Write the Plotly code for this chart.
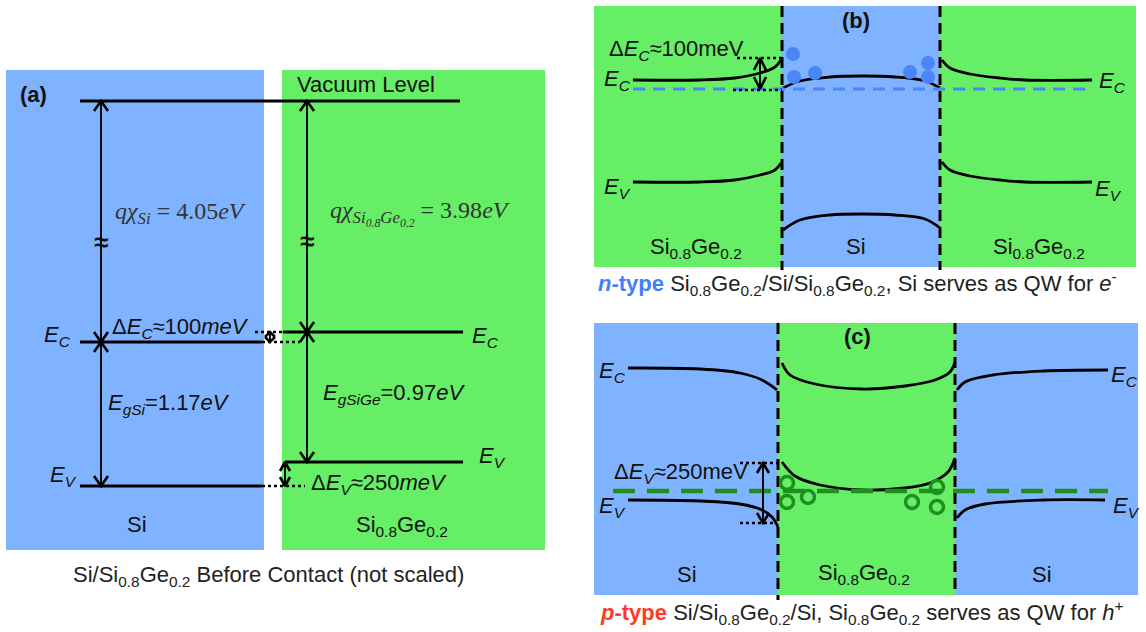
import plotly.graph_objects as go

W, H = 1146, 632
SANS = "Liberation Sans, Arial, sans-serif"
SERIF = "Liberation Serif, Times New Roman, serif"
BLUE = "#80b3ff"
GREEN = "#66ee66"
E_BLUE = "#4a86f7"
H_GREEN = "#1f8f1f"

# ---------------- data (schematic values) ----------------
# material regions
region_x0 = [6, 282, 594, 781, 940, 594, 778, 955]
region_x1 = [264, 545, 781, 940, 1136, 778, 955, 1138]
region_y0 = [70, 70, 6, 6, 6, 323, 323, 323]
region_y1 = [550, 550, 267, 267, 267, 595, 595, 595]
region_mat = ["Si", "SiGe", "SiGe", "Si", "SiGe", "Si", "SiGe", "Si"]

# panel (a): flat band levels before contact
a_level_name = ["Vacuum", "Ec_Si", "Ev_Si", "Ec_SiGe", "Ev_SiGe"]
a_level_y = [101, 342, 486, 332, 462]
a_level_x0 = [80, 80, 80, 283, 285]
a_level_x1 = [460, 262, 262, 463, 463]

# panel (a): dotted guide lines (offsets)
a_dot_y = [332, 342, 486]
a_dot_x0 = [255, 262, 262]
a_dot_x1 = [283, 300, 305]

# panel (a): vertical energy arrows  (x, y_top, y_bottom)
a_arrow_x = [101, 101, 307, 307]
a_arrow_top = [101, 342, 101, 332]
a_arrow_bot = [342, 486, 332, 462]
a_small_arrow_x = [270, 285]
a_small_arrow_top = [332, 462]
a_small_arrow_bot = [342, 486]

# panel (b): n-type Si0.8Ge0.2/Si/Si0.8Ge0.2 band curves
b_ec_left_x = [633, 700, 735, 760, 775, 781]
b_ec_left_y = [80, 80, 78, 73, 67, 60]
b_ec_mid_x = [783, 800, 830, 862, 895, 925, 940]
b_ec_mid_y = [88, 81, 77, 76, 77, 81, 88]
b_ec_right_x = [942, 950, 970, 1000, 1025, 1092]
b_ec_right_y = [60, 68, 74, 78, 80, 80]
b_ev_left_x = [633, 700, 735, 760, 775, 781]
b_ev_left_y = [182, 182, 180, 175, 170, 163]
b_ev_mid_x = [783, 800, 830, 862, 895, 925, 940]
b_ev_mid_y = [230, 220, 215, 214, 215, 219, 228]
b_ev_right_x = [942, 950, 970, 1000, 1025, 1092]
b_ev_right_y = [162, 170, 176, 180, 182, 182]
b_fermi_y = 89
b_fermi_x = [633, 1092]
b_interfaces = [782, 940]
b_electron_x = [793, 794, 815, 910, 928, 928]
b_electron_y = [54, 77, 73, 72, 63, 77]
b_dot_y = [58, 90]
b_dot_x0 = [737, 733]
b_dot_x1 = [782, 782]
b_arrow_x = 760
b_arrow_top, b_arrow_bot = 58, 89

# panel (c): p-type Si/Si0.8Ge0.2/Si band curves
c_ec_left_x = [628, 700, 740, 762, 777]
c_ec_left_y = [368, 369, 373, 380, 390]
c_ec_mid_x = [782, 790, 815, 862, 905, 935, 950, 955]
c_ec_mid_y = [363, 375, 384, 389, 386, 380, 372, 362]
c_ec_right_x = [957, 965, 993, 1043, 1108]
c_ec_right_y = [390, 382, 375, 371, 370]
c_ev_left_x = [628, 700, 740, 762, 772, 778]
c_ev_left_y = [500, 501, 504, 510, 517, 527]
c_ev_mid_x = [782, 795, 820, 862, 905, 930, 948, 955]
c_ev_mid_y = [462, 476, 485, 490, 488, 483, 472, 458]
c_ev_right_x = [957, 965, 985, 1043, 1105]
c_ev_right_y = [518, 510, 504, 500, 500]
c_fermi_y = 491
c_fermi_x = [613, 1108]
c_interfaces = [778, 955]
c_hole_x = [787, 787, 808, 912, 937, 937]
c_hole_y = [483, 502, 497, 502, 487, 507]
c_dot_y = [463, 523]
c_dot_x0 = [740, 740]
c_dot_x1 = [780, 776]
c_arrow_x = 763
c_arrow_top, c_arrow_bot = 463, 523

# ---------------- figure ----------------
fig = go.Figure()

mat_color = {"Si": BLUE, "SiGe": GREEN}
shapes = []
for x0, x1, y0, y1, m in zip(region_x0, region_x1, region_y0, region_y1, region_mat):
    shapes.append(dict(type="rect", xref="x", yref="y", x0=x0, x1=x1, y0=y0, y1=y1,
                       fillcolor=mat_color[m], line=dict(width=0), layer="below"))


def line(xs, ys, width=2.6, color="black", dash=None, shape="linear"):
    fig.add_trace(go.Scatter(x=xs, y=ys, mode="lines", hoverinfo="skip", showlegend=False,
                             line=dict(color=color, width=width, dash=dash, shape=shape)))


def chevron(x, y, up, w=6, h=9):
    d = h if up else -h
    return [x - w, x, x + w, None], [y + d, y, y + d, None]


def double_arrow(x, top, bot, w=6, h=9, width=1.9):
    line([x, x], [top, bot], width=width)
    cx, cy = [], []
    for yy, up in ((top, True), (bot, False)):
        a, b = chevron(x, yy, up, w, h)
        cx += a
        cy += b
    line(cx, cy, width=2.6)


# panel (a)
for y, x0, x1 in zip(a_level_y, a_level_x0, a_level_x1):
    line([x0, x1], [y, y], width=3)
for y, x0, x1 in zip(a_dot_y, a_dot_x0, a_dot_x1):
    line([x0, x1], [y, y], width=2.6, dash="dot")
for x, t, b in zip(a_arrow_x, a_arrow_top, a_arrow_bot):
    double_arrow(x, t, b, w=7, h=10)
for x, t, b in zip(a_small_arrow_x, a_small_arrow_top, a_small_arrow_bot):
    double_arrow(x, t, b, w=5, h=min(9, (b - t) * 0.5))

# panel (b)
for xs, ys in [(b_ec_left_x, b_ec_left_y), (b_ec_mid_x, b_ec_mid_y), (b_ec_right_x, b_ec_right_y),
               (b_ev_left_x, b_ev_left_y), (b_ev_mid_x, b_ev_mid_y), (b_ev_right_x, b_ev_right_y)]:
    line(xs, ys, width=2.8, shape="spline")
line(b_fermi_x, [b_fermi_y, b_fermi_y], width=3, color=E_BLUE, dash="12px,8px")
for xi in b_interfaces:
    line([xi, xi], [region_y0[3], region_y1[3] + 3], width=3, dash="11px,6px")
for y, x0, x1 in zip(b_dot_y, b_dot_x0, b_dot_x1):
    line([x0, x1], [y, y], width=2.6, dash="dot")
double_arrow(b_arrow_x, b_arrow_top, b_arrow_bot, w=6, h=12)
fig.add_trace(go.Scatter(x=b_electron_x, y=b_electron_y, mode="markers", hoverinfo="skip",
                         showlegend=False, marker=dict(size=14, color=E_BLUE, line=dict(width=0))))

# panel (c)
for xs, ys in [(c_ec_left_x, c_ec_left_y), (c_ec_mid_x, c_ec_mid_y), (c_ec_right_x, c_ec_right_y),
               (c_ev_left_x, c_ev_left_y), (c_ev_mid_x, c_ev_mid_y), (c_ev_right_x, c_ev_right_y)]:
    line(xs, ys, width=2.8, shape="spline")
line(c_fermi_x, [c_fermi_y, c_fermi_y], width=4.5, color=H_GREEN, dash="22px,12px")
for xi in c_interfaces:
    line([xi, xi], [region_y0[5], region_y1[5] + (5 if xi == c_interfaces[0] else 0)],
         width=3, dash="11px,6px")
for y, x0, x1 in zip(c_dot_y, c_dot_x0, c_dot_x1):
    line([x0, x1], [y, y], width=2.6, dash="dot")
double_arrow(c_arrow_x, c_arrow_top, c_arrow_bot, w=6, h=10)
fig.add_trace(go.Scatter(x=c_hole_x, y=c_hole_y, mode="markers", hoverinfo="skip", showlegend=False,
                         marker=dict(size=13, color="rgba(0,0,0,0)", line=dict(width=3.5, color=H_GREEN))))

# ---------------- text ----------------
ann = []


def txt(x, y, text, size=22, xa="center", ya="middle", family=SANS, color="#111"):
    ann.append(dict(x=x, y=y, xref="x", yref="y", text=text, showarrow=False, xanchor=xa,
                    yanchor=ya, font=dict(size=size, family=family, color=color)))


EC = "<i>E</i><sub><i>C</i></sub>"
EV = "<i>E</i><sub><i>V</i></sub>"
SIGE = "Si<sub>0.8</sub>Ge<sub>0.2</sub>"

# (a)
txt(18, 94, "<b>(a)</b>", xa="left")
txt(295, 84, "Vacuum Level", xa="left")
txt(113, 213, "<i>q</i><i>χ</i><sub><i>Si</i></sub> = 4.05<i>eV</i>", xa="left", size=24,
    family=SERIF, color="#333")
txt(328, 213, "<i>q</i><i>χ</i><sub><i>Si<sub>0.8</sub>Ge<sub>0.2</sub></i></sub> = 3.98<i>eV</i>",
    xa="left", size=24, family=SERIF, color="#333")
txt(101, 242, "<b>≈</b>", size=26)
txt(307, 241, "<b>≈</b>", size=26)
txt(110, 328, "Δ" + EC + "≈100<i>meV</i>", xa="left")
txt(73, 336, EC, xa="right")
txt(79, 476, EV, xa="right")
txt(106, 404, "<i>E</i><sub><i>gSi</i></sub>=1.17<i>eV</i>", xa="left")
txt(321, 394, "<i>E</i><sub><i>gSiGe</i></sub>=0.97<i>eV</i>", xa="left")
txt(470, 337, EC, xa="left")
txt(477, 457, EV, xa="left")
txt(309, 484, "Δ" + EV + "≈250<i>meV</i>", xa="left")
txt(137, 524, "Si")
txt(402, 526, SIGE)
txt(268, 576, "Si/" + SIGE + " Before Contact (not scaled)", color="#222")

# (b)
txt(856, 20, "<b>(b)</b>")
txt(607, 50, "Δ" + EC + "≈100meV", xa="left")
txt(633, 80, EC, xa="right")
txt(633, 188, EV, xa="right")
txt(1097, 82, EC, xa="left")
txt(1093, 190, EV, xa="left")
txt(696, 248, SIGE)
txt(856, 246, "Si")
txt(1039, 248, SIGE)
txt(857, 283, "<b><span style='color:#3f7fff'><i>n</i>-type</span></b> " + SIGE + "/Si/" + SIGE
    + ", Si serves as QW for <i>e</i><sup>-</sup>", color="#222")

# (c)
txt(857, 336, "<b>(c)</b>")
txt(628, 372, EC, xa="right")
txt(628, 507, EV, xa="right")
txt(612, 473, "Δ" + EV + "≈250meV", xa="left")
txt(1109, 376, EC, xa="left")
txt(1111, 507, EV, xa="left")
txt(687, 574, "Si")
txt(864, 574, SIGE)
txt(1042, 574, "Si")
txt(862, 612, "<b><span style='color:#ff3b1f'><i>p</i>-type</span></b> Si/" + SIGE + "/Si, " + SIGE
    + " serves as QW for <i>h</i><sup>+</sup>", color="#222")

fig.update_layout(
    width=W, height=H, margin=dict(l=0, r=0, t=0, b=0),
    paper_bgcolor="white", plot_bgcolor="white",
    xaxis=dict(range=[0, W], visible=False, fixedrange=True),
    yaxis=dict(range=[H, 0], visible=False, fixedrange=True),
    shapes=shapes, annotations=ann, showlegend=False, hovermode=False,
)

fig.write_html("out.html")
